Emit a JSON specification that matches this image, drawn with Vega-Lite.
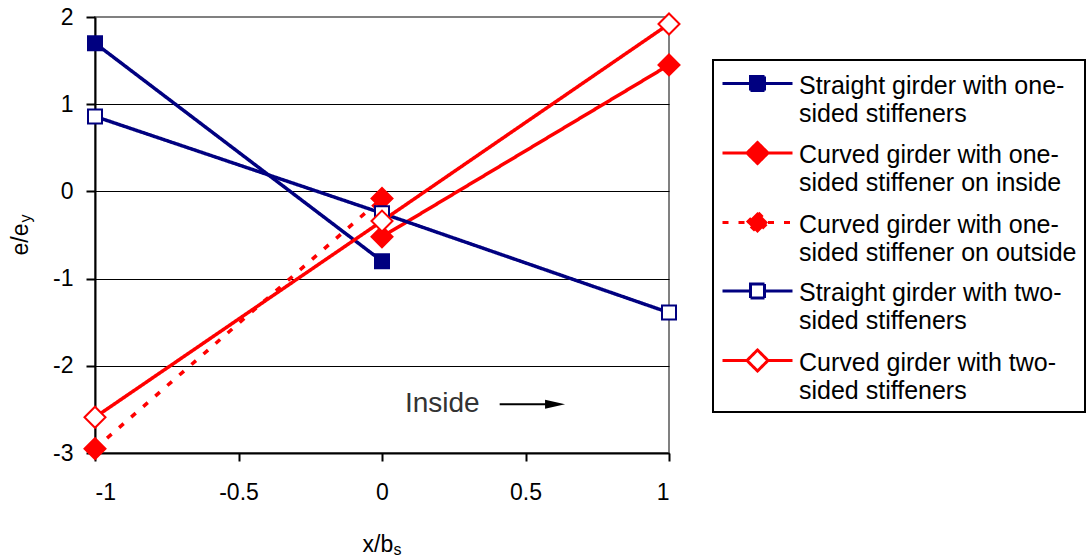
{
  "$schema": "https://vega.github.io/schema/vega-lite/v6.json",
  "width": 574,
  "height": 436,
  "autosize": {"type": "none"},
  "padding": {"left": 95, "top": 17, "right": 421, "bottom": 104},
  "background": "white",
  "config": {
    "font": "Liberation Sans",
    "view": {"stroke": "#808080", "strokeWidth": 2},
    "axis": {
      "labelFontSize": 23,
      "labelColor": "black",
      "titleFontSize": 23,
      "titleFontWeight": "normal",
      "titleColor": "black",
      "domainColor": "black",
      "domainWidth": 2,
      "tickColor": "black",
      "tickWidth": 2
    }
  },
  "datasets": {
    "girders": [
      {"series": "Straight girder with one-sided stiffeners", "x": -1, "y": 1.7},
      {"series": "Straight girder with one-sided stiffeners", "x": 0, "y": -0.8},
      {"series": "Curved girder with one-sided stiffener on inside", "x": 0, "y": -0.52},
      {"series": "Curved girder with one-sided stiffener on inside", "x": 1, "y": 1.45},
      {"series": "Curved girder with one-sided stiffener on outside", "x": -1, "y": -2.95},
      {"series": "Curved girder with one-sided stiffener on outside", "x": 0, "y": -0.08},
      {"series": "Straight girder with two-sided stiffeners", "x": -1, "y": 0.86},
      {"series": "Straight girder with two-sided stiffeners", "x": 0, "y": -0.25},
      {"series": "Straight girder with two-sided stiffeners", "x": 1, "y": -1.39},
      {"series": "Curved girder with two-sided stiffeners", "x": -1, "y": -2.59},
      {"series": "Curved girder with two-sided stiffeners", "x": 0, "y": -0.34},
      {"series": "Curved girder with two-sided stiffeners", "x": 1, "y": 1.92}
    ],
    "note": [{"label": "Inside", "x": 0.08, "y": -2.44}],
    "arrow": [{"x": 0.41, "x2": 0.6, "y": -2.44}],
    "arrowhead": [{"x": 0.603, "y": -2.44}]
  },
  "layer": [
    {
      "encoding": {
        "x": {
          "field": "x",
          "type": "quantitative",
          "scale": {"domain": [-1, 1], "nice": false, "zero": false},
          "axis": {
            "title": "x/b",
            "values": [-1, -0.5, 0, 0.5, 1],
            "labelExpr": "'' + datum.value",
            "grid": false,
            "tickSize": 8,
            "labelPadding": 20,
            "titleX": 267,
            "titleY": 98,
            "titleAlign": "left",
            "titleAnchor": null,
            "titleBaseline": "alphabetic"
          }
        },
        "y": {
          "field": "y",
          "type": "quantitative",
          "scale": {"domain": [-3, 2], "nice": false, "zero": false},
          "axis": {
            "title": "e/e",
            "values": [-3, -2, -1, 0, 1, 2],
            "labelExpr": "'' + datum.value",
            "grid": true,
            "gridColor": {"condition": {"test": "datum.value === 2", "value": "transparent"}, "value": "black"},
            "gridWidth": 1,
            "gridOpacity": 1,
            "tickSize": 9,
            "labelPadding": 13,
            "titleAngle": -90,
            "titleX": -68,
            "titleY": 238,
            "titleAlign": "left",
            "titleAnchor": null,
            "titleBaseline": "alphabetic"
          }
        }
      },
      "layer": [
        {
          "data": {"name": "girders"},
          "mark": {"type": "line", "strokeWidth": 3.5},
          "encoding": {
            "color": {
              "field": "series",
              "type": "nominal",
              "sort": null,
              "scale": {
                "domain": [
                  "Straight girder with one-sided stiffeners",
                  "Curved girder with one-sided stiffener on inside",
                  "Curved girder with one-sided stiffener on outside",
                  "Straight girder with two-sided stiffeners",
                  "Curved girder with two-sided stiffeners"
                ],
                "range": ["#000080", "#FF0000", "#FF0000", "#000080", "#FF0000"]
              },
              "legend": {
                "orient": "none",
                "legendX": 618,
                "legendY": 43,
                "title": null,
                "strokeColor": "black",
                "padding": 8,
                "labelFontSize": 25,
                "labelColor": "black",
                "labelOffset": 26,
                "labelLimit": 0,
                "rowPadding": 9.5,
                "symbolSize": 784,
                "symbolOffset": 21,
                "symbolStrokeWidth": 3,
                "labelExpr": "split(replace(datum.label, '-sided', '-|sided'), '|')",
                "encode": {
                  "legend": {"update": {"strokeWidth": {"value": 2}}},
                  "labels": {"update": {"lineHeight": {"value": 28}, "dy": {"value": 2}}},
                  "symbols": {
                    "update": {
                      "shape": {"signal": "indexof(datum.value, 'Straight') === 0 ? 'M-2.5,0H-0.5M0.5,0H2.5M-0.5,-0.5H0.5V0.5H-0.5Z' : 'M-2.5,0H-0.75M0.75,0H2.5M-0.75,0L0,-0.75L0.75,0L0,0.75Z'"},
                      "fill": {"signal": "indexof(datum.value, 'two-sided') >= 0 ? 'white' : (indexof(datum.value, 'Straight') === 0 ? '#000080' : '#FF0000')"},
                      "stroke": {"signal": "indexof(datum.value, 'Straight') === 0 ? '#000080' : '#FF0000'"},
                      "strokeDash": {"signal": "indexof(datum.value, 'outside') >= 0 ? [6, 10] : [1, 0]"},
                      "opacity": {"value": 1},
                      "fillOpacity": {"value": 1}
                    }
                  }
                }
              }
            },
            "strokeDash": {
              "condition": {"test": "indexof(datum.series, 'outside') >= 0", "value": [6, 10]},
              "value": [1, 0]
            }
          }
        },
        {
          "data": {"name": "girders"},
          "mark": {"type": "point", "filled": true, "opacity": 1, "strokeWidth": 2},
          "encoding": {
            "shape": {
              "condition": {"test": "indexof(datum.series, 'Straight') === 0", "value": "square"},
              "value": "diamond"
            },
            "size": {
              "condition": {"test": "indexof(datum.series, 'Straight') === 0", "value": 196},
              "value": 441
            },
            "fill": {
              "condition": [
                {"test": "indexof(datum.series, 'two-sided') >= 0", "value": "white"},
                {"test": "indexof(datum.series, 'Straight') === 0", "value": "#000080"}
              ],
              "value": "#FF0000"
            },
            "stroke": {
              "condition": {"test": "indexof(datum.series, 'Straight') === 0", "value": "#000080"},
              "value": "#FF0000"
            }
          }
        },
        {
          "data": {"name": "note"},
          "mark": {"type": "text", "align": "left", "baseline": "middle", "fontSize": 28, "color": "#333333"},
          "encoding": {"text": {"field": "label"}}
        },
        {
          "data": {"name": "arrow"},
          "mark": {"type": "rule", "strokeWidth": 2, "color": "black"},
          "encoding": {"x2": {"field": "x2"}}
        },
        {
          "data": {"name": "arrowhead"},
          "mark": {"type": "point", "filled": true, "opacity": 1, "color": "black", "size": 400, "shape": "M-1,-0.45L1,0L-1,0.45Z"},
          "encoding": {}
        }
      ]
    },
    {
      "data": {"name": "girders"},
      "mark": {"type": "point", "opacity": 0},
      "encoding": {
        "x": {
          "field": "x",
          "type": "quantitative",
          "scale": {"domain": [-1, 1], "nice": false, "zero": false},
          "axis": {
            "orient": "bottom",
            "title": "s",
            "titleFontSize": 16,
            "labels": false,
            "ticks": false,
            "domain": false,
            "grid": false,
            "titleX": 298,
            "titleY": 101,
            "titleAlign": "left",
            "titleAnchor": null,
            "titleBaseline": "alphabetic"
          }
        },
        "y": {
          "field": "y",
          "type": "quantitative",
          "scale": {"domain": [-3, 2], "nice": false, "zero": false},
          "axis": {
            "orient": "left",
            "title": "y",
            "titleFontSize": 16,
            "labels": false,
            "ticks": false,
            "domain": false,
            "grid": false,
            "titleAngle": -90,
            "titleX": -65,
            "titleY": 205,
            "titleAlign": "left",
            "titleAnchor": null,
            "titleBaseline": "alphabetic"
          }
        }
      }
    }
  ],
  "resolve": {"scale": {"x": "independent", "y": "independent"}}
}
